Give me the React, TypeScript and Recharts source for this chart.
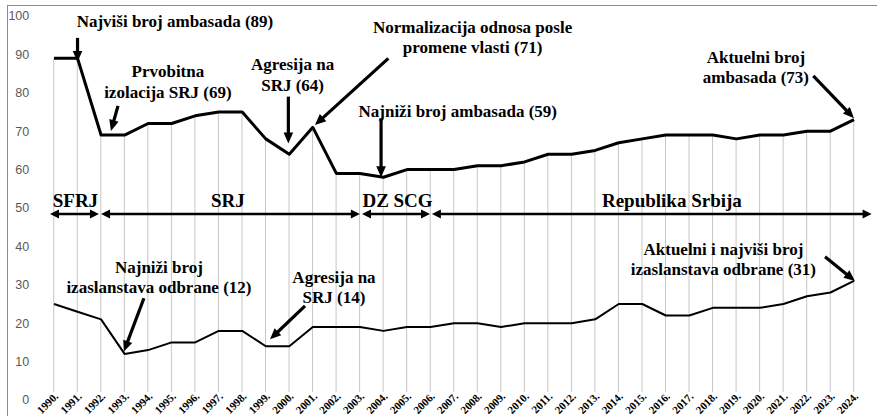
import React from 'react';
import { ComposedChart, Line, Bar, XAxis, YAxis, ReferenceLine, ReferenceDot } from 'recharts';

const years = [1990, 1991, 1992, 1993, 1994, 1995, 1996, 1997, 1998, 1999, 2000, 2001, 2002, 2003, 2004, 2005, 2006, 2007, 2008, 2009, 2010, 2011, 2012, 2013, 2014, 2015, 2016, 2017, 2018, 2019, 2020, 2021, 2022, 2023, 2024];
const yearLabels = ['1990.', '1991.', '1992.', '1993.', '1994.', '1995.', '1996.', '1997.', '1998.', '1999.', '2000.', '2001.', '2002.', '2003.', '2004.', '2005.', '2006.', '2007.', '2008.', '2009.', '2010.', '2011.', '2012.', '2013.', '2014.', '2015.', '2016.', '2017.', '2018.', '2019.', '2020.', '2021.', '2022.', '2023.', '2024.'];
const embassies = [89, 89, 69, 69, 72, 72, 74, 75, 75, 68, 64, 71, 59, 59, 58, 60, 60, 60, 61, 61, 62, 64, 64, 65, 67, 68, 69, 69, 69, 68, 69, 69, 70, 70, 73];
const defence = [25, 23, 21, 12, 13, 15, 15, 18, 18, 14, 14, 19, 19, 19, 18, 19, 19, 20, 20, 19, 20, 20, 20, 21, 25, 25, 22, 22, 24, 24, 24, 25, 27, 28, 31];
const yTicks = [0, 10, 20, 30, 40, 50, 60, 70, 80, 90, 100];

const annotationTexts = [
  { x: 1995.14, y: 97.1, lines: ['Najviši broj ambasada (89)'] },
  { x: 1994.84, y: 84.1, lines: ['Prvobitna', 'izolacija SRJ (69)'] },
  { x: 2000.14, y: 85.9, lines: ['Agresija na', 'SRJ (64)'] },
  { x: 2007.79, y: 95.6, lines: ['Normalizacija odnosa posle', 'promene vlasti (71)'] },
  { x: 2007.16, y: 73.6, lines: ['Najniži broj ambasada (59)'] },
  { x: 2019.83, y: 87.8, lines: ['Aktuelni broj', 'ambasada (73)'] },
  { x: 1994.46, y: 33.1, lines: ['Najniži broj', 'izaslanstava odbrane (12)'] },
  { x: 2001.9, y: 30.5, lines: ['Agresija na', 'SRJ (14)'] },
  { x: 2018.45, y: 37.8, lines: ['Aktuelni i najviši broj', 'izaslanstava odbrane (31)'] },
];

const annotationArrows = [
  { x1: 1991, y1: 94.3, x2: 1991, y2: 88.0 },
  { x1: 1992.72, y1: 76.6, x2: 1992.42, y2: 70.05 },
  { x1: 1999.96, y1: 79, x2: 1999.96, y2: 66.8 },
  { x1: 2004.21, y1: 88.98, x2: 2001.09, y2: 71.6 },
  { x1: 2003.9, y1: 73.4, x2: 2003.9, y2: 58.0 },
  { x1: 2022.27, y1: 84.4, x2: 2024.0, y2: 73.4 },
  { x1: 1993.82, y1: 26.5, x2: 1992.97, y2: 12.6 },
  { x1: 2000.67, y1: 24.5, x2: 1999.18, y2: 15.8 },
  { x1: 2022.77, y1: 37.3, x2: 2024.04, y2: 31.0 },
];

const periodLabels = [
  { x: 1990.91, y: 50.26, text: 'SFRJ' },
  { x: 1997.39, y: 50.26, text: 'SRJ' },
  { x: 2004.6, y: 50.26, text: 'DZ SCG' },
  { x: 2016.26, y: 50.26, text: 'Republika Srbija' },
];

const periodArrows = [
  { x1: 1989.83, x2: 1991.91, y: 48.44 },
  { x1: 1992.0, x2: 2003.0, y: 48.44 },
  { x1: 2003.09, x2: 2005.98, y: 48.44 },
  { x1: 2006.06, x2: 2024.75, y: 48.44 },
];

const data = years.map((year, i) => ({ year, embassies: embassies[i], defence: defence[i] }));

const SERIF = 'Liberation Serif, Times New Roman, serif';

function head(x1: number, y1: number, x2: number, y2: number, len: number, half: number) {
  const dx = x2 - x1;
  const dy = y2 - y1;
  const d = Math.sqrt(dx * dx + dy * dy) || 1;
  const ux = dx / d;
  const uy = dy / d;
  const bx = x2 - ux * len;
  const by = y2 - uy * len;
  const px = -uy * half;
  const py = ux * half;
  return {
    points: `${x2},${y2} ${bx + px},${by + py} ${bx - px},${by - py}`,
    bx: x2 - ux * len * 0.8,
    by: y2 - uy * len * 0.8,
  };
}

const SingleArrow = (props: any) => {
  const { x1, y1, x2, y2 } = props;
  const h = head(x1, y1, x2, y2, 11, 4.8);
  return (
    <g>
      <line x1={x1} y1={y1} x2={h.bx} y2={h.by} stroke="#000" strokeWidth={3.2} />
      <polygon points={h.points} fill="#000" />
    </g>
  );
};

const DoubleArrow = (props: any) => {
  const { x1, y1, x2, y2 } = props;
  const h1 = head(x1, y1, x2, y2, 9, 4.5);
  const h2 = head(x2, y2, x1, y1, 9, 4.5);
  return (
    <g>
      <line x1={h2.bx} y1={h2.by} x2={h1.bx} y2={h1.by} stroke="#000" strokeWidth={2.6} />
      <polygon points={h1.points} fill="#000" />
      <polygon points={h2.points} fill="#000" />
    </g>
  );
};

const makeTextShape = (lines: string[], size: number) => (props: any) => {
  const { cx, cy } = props;
  return (
    <text textAnchor="middle" style={{ fontFamily: SERIF, fontWeight: 'bold', fontSize: size }} fill="#000">
      {lines.map((l, i) => (
        <tspan key={i} x={cx} y={cy + i * 20.5}>
          {l}
        </tspan>
      ))}
    </text>
  );
};

const DropLine = (props: any) => {
  const { x, y, width, height } = props;
  if (height == null || height <= 0) return null;
  const cx = x + width / 2;
  return <line x1={cx} y1={y} x2={cx} y2={y + height - 8} stroke="#c6c6c6" strokeWidth={1} />;
};

const YearTick = (props: any) => {
  const { x, y, payload } = props;
  const idx = years.indexOf(payload.value);
  const ax = x + 5;
  const ay = y - 3;
  return (
    <g transform={`translate(${ax},${ay}) rotate(-45)`}>
      <text x={0} y={0} textAnchor="end" style={{ fontFamily: SERIF, fontWeight: 'bold', fontSize: 11 }} fill="#000">
        {idx >= 0 ? yearLabels[idx] : ''}
      </text>
    </g>
  );
};

export default function App() {
  return (
    <div style={{ position: 'absolute', left: 0, top: 0, width: 877, height: 416, background: '#fff', overflow: 'hidden' }}>
      <div
        style={{
          position: 'absolute',
          left: 7,
          top: 5,
          right: -2,
          bottom: -2,
          borderLeft: '1px solid #8a8a8a',
          borderTop: '1px solid #8a8a8a',
        }}
      />
      <div style={{ position: 'absolute', left: 0, top: 0 }}>
        <ComposedChart width={877} height={416} data={data} margin={{ top: 16, right: 11.24, bottom: 0, left: 0 }}>
          <XAxis
            type="number"
            dataKey="year"
            domain={[1989.5, 2024.5]}
            ticks={years}
            interval={0}
            allowDataOverflow
            axisLine={false}
            tickLine={false}
            tickSize={0}
            tickMargin={0}
            height={16}
            tick={<YearTick />}
          />
          <YAxis
            type="number"
            domain={[0, 100]}
            ticks={yTicks}
            interval={0}
            width={42.24}
            axisLine={false}
            tickLine={false}
            tickSize={0}
            tickMargin={13}
            tick={{ fill: '#595959', fontSize: 12.5, fontFamily: 'Liberation Sans, Arial, sans-serif' }}
          />
          <Bar dataKey="embassies" barSize={1} shape={<DropLine />} isAnimationActive={false} />
          <Line
            dataKey="embassies"
            type="linear"
            stroke="#000"
            strokeWidth={3}
            strokeLinejoin="round"
            dot={false}
            activeDot={false}
            isAnimationActive={false}
          />
          <Line
            dataKey="defence"
            type="linear"
            stroke="#000"
            strokeWidth={2}
            strokeLinejoin="round"
            dot={false}
            activeDot={false}
            isAnimationActive={false}
          />
          {periodArrows.map((a, i) => (
            <ReferenceLine
              key={`pa${i}`}
              segment={[{ x: a.x1, y: a.y }, { x: a.x2, y: a.y }]}
              ifOverflow="visible"
              shape={DoubleArrow}
            />
          ))}
          {annotationArrows.map((a, i) => (
            <ReferenceLine
              key={`aa${i}`}
              segment={[{ x: a.x1, y: a.y1 }, { x: a.x2, y: a.y2 }]}
              ifOverflow="visible"
              shape={SingleArrow}
            />
          ))}
          {periodLabels.map((p, i) => (
            <ReferenceDot key={`pl${i}`} x={p.x} y={p.y} r={0} ifOverflow="visible" shape={makeTextShape([p.text], 19)} />
          ))}
          {annotationTexts.map((t, i) => (
            <ReferenceDot key={`at${i}`} x={t.x} y={t.y} r={0} ifOverflow="visible" shape={makeTextShape(t.lines, 17)} />
          ))}
        </ComposedChart>
      </div>
    </div>
  );
}
